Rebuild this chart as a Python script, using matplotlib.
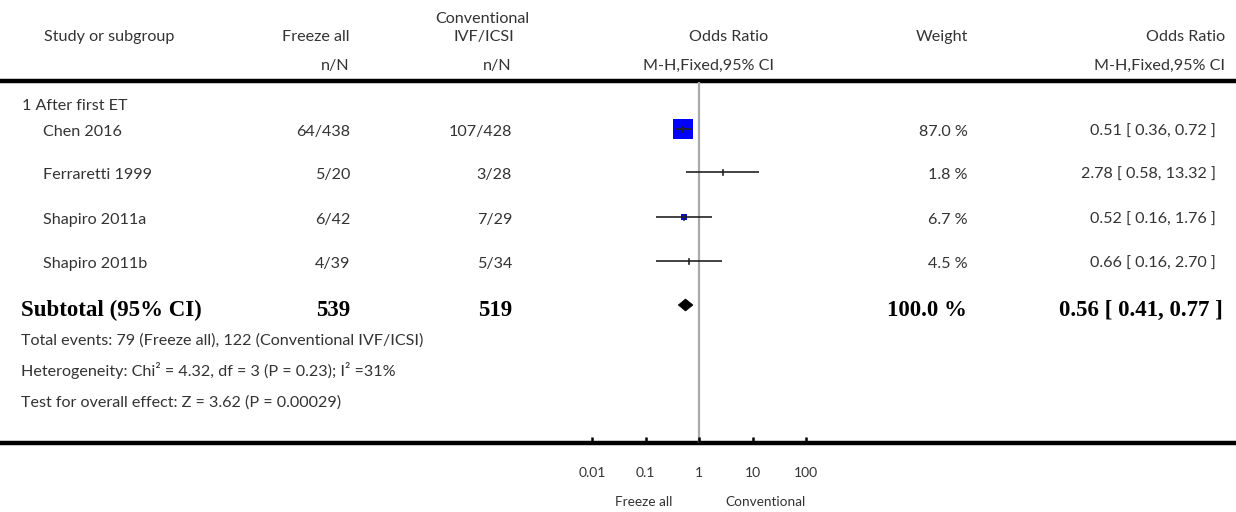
#!/usr/bin/env python3

import matplotlib
matplotlib.use('Agg')
import matplotlib.pyplot as plt
from matplotlib.patches import Rectangle, Polygon

studies = ['Chen 2016', 'Ferraretti 1999', 'Shapiro 2011a', 'Shapiro 2011b']
freeze_events = [64, 5, 6, 4]
freeze_total = [438, 20, 42, 39]
conv_events = [107, 3, 7, 5]
conv_total = [428, 28, 29, 34]
weights = [87.0, 1.8, 6.7, 4.5]
odds = [0.51, 2.78, 0.52, 0.66]
ci_low = [0.36, 0.58, 0.16, 0.16]
ci_high = [0.72, 13.32, 1.76, 2.70]

subtotal_or = 0.56
subtotal_ci = [0.41, 0.77]
subtotal_freeze = 539
subtotal_conv = 519
subtotal_weight = 100.0

footnotes = [
    'Total events: 79 (Freeze all), 122 (Conventional IVF/ICSI)',
    'Heterogeneity: Chi\u00b2 = 4.32, df = 3 (P = 0.23); I\u00b2 =31%',
    'Test for overall effect: Z = 3.62 (P = 0.00029)',
]

tick_values = [0.01, 0.1, 1, 10, 100]
tick_labels = ['0.01', '0.1', '1', '10', '100']

W, H = 1236, 512
SANS = ['Lato', 'DejaVu Sans']
SERIF = ['Liberation Serif', 'DejaVu Serif']
TXT = '#333333'
FS = 11.6

fig = plt.figure(figsize=(W / 100, H / 100), dpi=100)

# text layer in pixel coordinates
ax = fig.add_axes([0, 0, 1, 1])
ax.set_xlim(0, W)
ax.set_ylim(H, 0)
ax.axis('off')


def put(x, y, s, ha='left', bold=False, size=FS):
    if bold:
        ax.text(x, y, s, ha=ha, va='baseline', fontsize=16.5, fontweight='bold',
                family=SERIF, color='black')
    else:
        ax.text(x, y, s, ha=ha, va='baseline', fontsize=size, family=SANS, color=TXT)


# header
put(44, 41, 'Study or subgroup')
put(350, 41, 'Freeze all', ha='right')
put(482, 23, 'Conventional', ha='center')
put(484, 41, 'IVF/ICSI', ha='center')
put(768, 41, 'Odds Ratio', ha='right')
put(968, 41, 'Weight', ha='right')
put(1225, 41, 'Odds Ratio', ha='right')
put(350, 70, 'n/N', ha='right')
put(512, 70, 'n/N', ha='right')
put(774, 70, 'M-H,Fixed,95% CI', ha='right')
put(1225, 70, 'M-H,Fixed,95% CI', ha='right')

ax.plot([0, W], [81, 81], color='black', lw=3.2, solid_capstyle='butt')
ax.plot([0, W], [443, 443], color='black', lw=3.2, solid_capstyle='butt')

put(22, 110, '1 After first ET')

row_y = [129, 172, 217, 261]
sub_y = 305

for i, name in enumerate(studies):
    b = row_y[i] + 7
    put(43, b, name)
    put(350, b, '%d/%d' % (freeze_events[i], freeze_total[i]), ha='right')
    put(512, b, '%d/%d' % (conv_events[i], conv_total[i]), ha='right')
    put(968, b, '%.1f %%' % weights[i], ha='right')
    put(1216, b, '%.2f [ %.2f, %.2f ]' % (odds[i], ci_low[i], ci_high[i]), ha='right')

put(21, 316, 'Subtotal (95% CI)', bold=True)
put(350, 316, str(subtotal_freeze), ha='right', bold=True)
put(512, 316, str(subtotal_conv), ha='right', bold=True)
put(967, 316, '%.1f %%' % subtotal_weight, ha='right', bold=True)
put(1223, 316, '%.2f [ %.2f, %.2f ]' % (subtotal_or, *subtotal_ci), ha='right', bold=True)

for k, line in enumerate(footnotes):
    put(21, [345, 376, 407][k], line)

put(672, 506, 'Freeze all', ha='right', size=9.8)
put(725, 506, 'Conventional', ha='left', size=9.8)

# forest panel: log axis from 0.01 to 100
x0, x1 = 592, 806
y_top, y_bot = 82, 443
fx = fig.add_axes([x0 / W, (H - y_bot) / H, (x1 - x0) / W, (y_bot - y_top) / H])
fx.patch.set_alpha(0)
fx.set_xscale('log')
fx.set_xlim(tick_values[0], tick_values[-1])
fx.set_ylim(y_bot, y_top)
for sp in fx.spines.values():
    sp.set_visible(False)
fx.set_yticks([])
fx.set_xticks(tick_values)
fx.set_xticklabels(tick_labels, family=SANS, fontsize=10, color=TXT)
fx.minorticks_off()
fx.tick_params(axis='x', direction='in', length=4, width=1.8, pad=17, color='black')

fx.axvline(1, color='#aaaaaa', lw=1.6, zorder=1)

for i in range(len(studies)):
    y = row_y[i]
    fx.plot([ci_low[i], ci_high[i]], [y, y], color='#222222', lw=1.2, zorder=3,
            solid_capstyle='butt')
    side = 20 * (weights[i] / weights[0]) ** 0.5
    if side >= 5:
        # square centred on the estimate, side in pixels converted to data units
        t = fx.transData
        cx, cy = t.transform((odds[i], y))
        xa = t.inverted().transform((cx - side / 2, cy))[0]
        xb = t.inverted().transform((cx + side / 2, cy))[0]
        fx.add_patch(Rectangle((xa, y - side / 2), xb - xa, side,
                               facecolor='#0000ff', edgecolor='none', zorder=2))
    fx.plot([odds[i], odds[i]], [y - 2.5, y + 2.5], color='#222222', lw=1.2, zorder=4)

fx.add_patch(Polygon([(subtotal_ci[0], sub_y), (subtotal_or, sub_y - 6),
                      (subtotal_ci[1], sub_y), (subtotal_or, sub_y + 6)],
                     closed=True, facecolor='black', edgecolor='black', lw=0.5, zorder=3))

fig.savefig('out.png', dpi=100)
